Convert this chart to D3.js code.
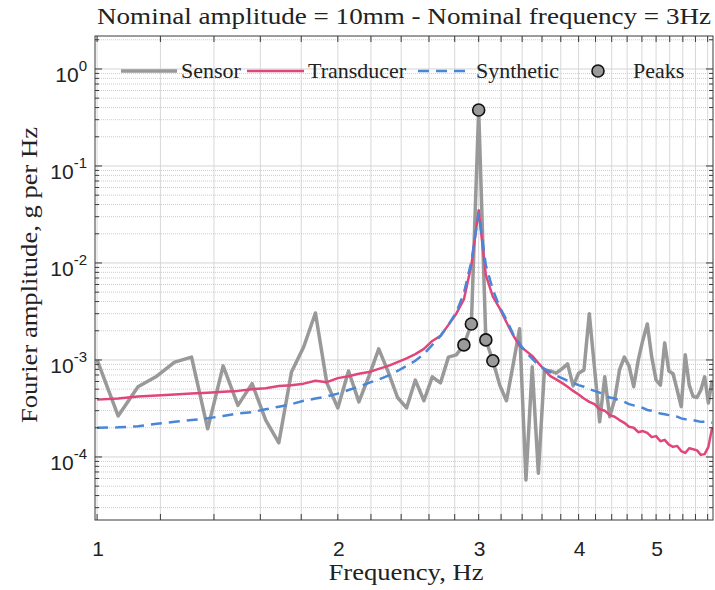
<!DOCTYPE html>
<html>
<head>
<meta charset="utf-8">
<script src="https://cdn.jsdelivr.net/npm/d3@7"></script>
<style>
  body { margin: 0; background: #fff; }
</style>
</head>
<body>
<div id="chart"></div>
<script>
// FFT bins, df = 1/16 Hz
const freqs = [1, 1.0625, 1.125, 1.1875, 1.25, 1.3125, 1.375, 1.4375, 1.5, 1.5625,
  1.625, 1.6875, 1.75, 1.8125, 1.875, 1.9375, 2, 2.0625, 2.125, 2.1875,
  2.25, 2.3125, 2.375, 2.4375, 2.5, 2.5625, 2.625, 2.6875, 2.75, 2.8125,
  2.875, 2.9375, 3, 3.0625, 3.125, 3.1875, 3.25, 3.3125, 3.375, 3.4375,
  3.5, 3.5625, 3.625, 3.6875, 3.75, 3.8125, 3.875, 3.9375, 4, 4.0625,
  4.125, 4.1875, 4.25, 4.3125, 4.375, 4.4375, 4.5, 4.5625, 4.625, 4.6875,
  4.75, 4.8125, 4.875, 4.9375, 5, 5.0625, 5.125, 5.1875, 5.25, 5.3125,
  5.375, 5.4375, 5.5, 5.5625, 5.625, 5.6875, 5.75, 5.8125, 5.875];

const sensor = [1.0e-3, 2.65e-4, 5.3e-4, 6.8e-4, 9.5e-4, 1.07e-3, 1.95e-4, 8.7e-4, 3.4e-4, 5.7e-4,
  2.4e-4, 1.4e-4, 7.5e-4, 1.36e-3, 3.05e-3, 5.8e-4, 3.2e-4, 7.7e-4, 3.7e-4, 6.8e-4,
  1.3e-3, 7.5e-4, 4.1e-4, 3.2e-4, 6.2e-4, 3.8e-4, 6.7e-4, 5.8e-4, 1.07e-3, 1.13e-3,
  1.43e-3, 2.35e-3, 0.378, 1.61e-3, 9.8e-4, 5.5e-4, 3.8e-4, 8.9e-4, 2.1e-3, 5.8e-5,
  8.5e-4, 6.8e-5, 7.9e-4, 7.7e-4, 7.3e-4, 8.1e-4, 9.1e-4, 5.4e-4, 7.3e-4, 7.9e-4,
  3.0e-3, 8.3e-4, 2.3e-4, 6.7e-4, 2.6e-4, 3.9e-4, 7.9e-4, 1.07e-3, 8.7e-4, 5.3e-4,
  1.0e-3, 1.6e-3, 2.35e-3, 1.07e-3, 6.2e-4, 5.5e-4, 1.5e-3, 7.7e-4, 7.2e-4, 4.9e-4,
  3.3e-4, 1.13e-3, 5.5e-4, 4.2e-4, 4.1e-4, 4.9e-4, 6.7e-4, 3.6e-4, 6.2e-4];

const transducer = [3.9e-4, 4.0e-4, 4.2e-4, 4.3e-4, 4.4e-4, 4.5e-4, 4.6e-4, 4.7e-4, 4.8e-4, 5.0e-4,
  5.1e-4, 5.4e-4, 5.5e-4, 5.7e-4, 6.1e-4, 5.9e-4, 6.5e-4, 6.8e-4, 7.2e-4, 7.5e-4,
  8.1e-4, 8.7e-4, 9.5e-4, 1.04e-3, 1.15e-3, 1.3e-3, 1.57e-3, 1.77e-3, 2.3e-3, 3.0e-3,
  4.2e-3, 9.5e-3, 0.035, 7.5e-3, 4.5e-3, 3.4e-3, 2.45e-3, 1.8e-3, 1.4e-3, 1.24e-3,
  1.1e-3, 9.3e-4, 7.9e-4, 6.8e-4, 6.3e-4, 5.8e-4, 5.3e-4, 4.8e-4, 4.4e-4, 4.0e-4,
  3.7e-4, 3.5e-4, 3.1e-4, 3.0e-4, 2.7e-4, 2.6e-4, 2.4e-4, 2.25e-4, 2.05e-4, 2.0e-4,
  1.8e-4, 1.85e-4, 1.77e-4, 1.6e-4, 1.64e-4, 1.45e-4, 1.5e-4, 1.34e-4, 1.27e-4, 1.3e-4,
  1.15e-4, 1.1e-4, 1.23e-4, 1.2e-4, 1.17e-4, 1.05e-4, 1.07e-4, 1.27e-4, 2.0e-4];

const synthetic = [2.0e-4, 2.02e-4, 2.07e-4, 2.2e-4, 2.3e-4, 2.4e-4, 2.5e-4, 2.65e-4, 2.8e-4, 2.9e-4,
  3.1e-4, 3.3e-4, 3.5e-4, 3.8e-4, 4.0e-4, 4.2e-4, 4.5e-4, 4.9e-4, 5.3e-4, 5.8e-4,
  6.3e-4, 6.9e-4, 7.7e-4, 8.7e-4, 9.8e-4, 1.15e-3, 1.43e-3, 1.77e-3, 2.3e-3, 3.1e-3,
  4.9e-3, 0.0103, 0.033, 9.5e-3, 5.3e-3, 3.5e-3, 2.6e-3, 1.85e-3, 1.47e-3, 1.2e-3,
  1.03e-3, 8.9e-4, 8.1e-4, 7.5e-4, 6.9e-4, 6.5e-4, 6.1e-4, 5.8e-4, 5.5e-4, 5.3e-4,
  5.0e-4, 4.8e-4, 4.6e-4, 4.3e-4, 4.1e-4, 4.0e-4, 3.8e-4, 3.7e-4, 3.5e-4, 3.4e-4,
  3.3e-4, 3.2e-4, 3.05e-4, 3.0e-4, 2.9e-4, 2.8e-4, 2.75e-4, 2.7e-4, 2.65e-4, 2.6e-4,
  2.5e-4, 2.45e-4, 2.45e-4, 2.4e-4, 2.35e-4, 2.3e-4, 2.3e-4, 2.25e-4, 2.25e-4];

const peakFreqs = [2.875, 2.9375, 3, 3.0625, 3.125];
const peakValues = [1.43e-3, 2.35e-3, 0.378, 1.61e-3, 9.8e-4];

const xTickLabels = [1, 2, 3, 4, 5];
const yDecadeExps = [-4, -3, -2, -1, 0];

const W = 715, H = 590;
const margin = { left: 95, right: 2, top: 36, bottom: 70 };

const svg = d3.select("#chart").append("svg")
  .attr("width", W).attr("height", H)
  .style("background", "#fff");

const x = d3.scaleLog().domain([0.994, 5.89]).range([margin.left, W - margin.right]);
const y = d3.scaleLog().domain([Math.pow(10, -4.65), Math.pow(10, 0.34)]).range([H - margin.bottom, margin.top]);

const [x0, x1] = x.range();
const [y0, y1] = y.range(); // y0 bottom, y1 top

const serif = "'Liberation Serif', 'Times New Roman', serif";
const sans = "'Liberation Sans', Arial, sans-serif";

// grid
const xGrid = d3.range(1, 5.81, 0.2);
const yMinor = [];
for (let e = -5; e <= 0; e++) {
  for (let m = 2; m <= 9; m++) {
    const v = m * Math.pow(10, e);
    if (v > y.domain()[0] && v < y.domain()[1]) yMinor.push(v);
  }
}
const yMajor = yDecadeExps.map(e => Math.pow(10, e));

const grid = svg.append("g");
grid.selectAll(".gx").data(xGrid).enter().append("line")
  .attr("x1", d => x(d)).attr("x2", d => x(d))
  .attr("y1", y0).attr("y2", y1)
  .attr("stroke", "#d8d8d8").attr("stroke-width", 1);
grid.selectAll(".gym").data(yMinor).enter().append("line")
  .attr("x1", x0).attr("x2", x1)
  .attr("y1", d => y(d)).attr("y2", d => y(d))
  .attr("stroke", "#cccccc").attr("stroke-width", 1)
  .attr("stroke-dasharray", "1,1");
grid.selectAll(".gyM").data(yMajor).enter().append("line")
  .attr("x1", x0).attr("x2", x1)
  .attr("y1", d => y(d)).attr("y2", d => y(d))
  .attr("stroke", "#d4d4d4").attr("stroke-width", 1);

// clip
svg.append("clipPath").attr("id", "clip").append("rect")
  .attr("x", x0).attr("y", y1).attr("width", x1 - x0).attr("height", y0 - y1);

const plot = svg.append("g").attr("clip-path", "url(#clip)");

const line = d3.line().x(d => x(d[0])).y(d => y(d[1]));

plot.append("path")
  .datum(freqs.map((f, i) => [f, sensor[i]]))
  .attr("d", line)
  .attr("fill", "none").attr("stroke", "#999999").attr("stroke-width", 3.5)
  .attr("stroke-linejoin", "round");

plot.append("path")
  .datum(freqs.map((f, i) => [f, transducer[i]]))
  .attr("d", line)
  .attr("fill", "none").attr("stroke", "#e0457b").attr("stroke-width", 2.5)
  .attr("stroke-linejoin", "round");

plot.append("path")
  .datum(freqs.map((f, i) => [f, synthetic[i]]))
  .attr("d", line)
  .attr("fill", "none").attr("stroke", "#4a86d8").attr("stroke-width", 2.5)
  .attr("stroke-dasharray", "11,7");

plot.selectAll(".peak").data(peakFreqs).enter().append("circle")
  .attr("cx", d => x(d)).attr("cy", (d, i) => y(peakValues[i]))
  .attr("r", 6)
  .attr("fill", "#9a9a9a").attr("stroke", "#111").attr("stroke-width", 1.6);

// frame + ticks
const axisColor = "#3a3a3a";
svg.append("rect")
  .attr("x", x0).attr("y", y1).attr("width", x1 - x0).attr("height", y0 - y1)
  .attr("fill", "none").attr("stroke", axisColor).attr("stroke-width", 1);

const ticks = svg.append("g").attr("stroke", axisColor).attr("stroke-width", 1);
xGrid.forEach(f => {
  ticks.append("line").attr("x1", x(f)).attr("x2", x(f)).attr("y1", y0).attr("y2", y0 - 6);
  ticks.append("line").attr("x1", x(f)).attr("x2", x(f)).attr("y1", y1).attr("y2", y1 + 6);
});
yMajor.forEach(v => {
  ticks.append("line").attr("x1", x0).attr("x2", x0 + 7).attr("y1", y(v)).attr("y2", y(v));
  ticks.append("line").attr("x1", x1).attr("x2", x1 - 7).attr("y1", y(v)).attr("y2", y(v));
});
yMinor.forEach(v => {
  ticks.append("line").attr("x1", x0).attr("x2", x0 + 4).attr("y1", y(v)).attr("y2", y(v));
  ticks.append("line").attr("x1", x1).attr("x2", x1 - 4).attr("y1", y(v)).attr("y2", y(v));
});

// tick labels
svg.selectAll(".xl").data(xTickLabels).enter().append("text")
  .attr("x", d => x(d) + 1).attr("y", y0 + 36)
  .attr("text-anchor", "middle")
  .style("font-family", sans).style("font-size", "21px").attr("fill", "#222")
  .text(d => d);

const yl = svg.selectAll(".yl").data(yDecadeExps).enter().append("text")
  .attr("x", x0 - 8).attr("y", d => y(Math.pow(10, d)) + 13)
  .attr("text-anchor", "end")
  .style("font-family", sans).style("font-size", "21px").attr("fill", "#222");
yl.append("tspan").text("10");
yl.append("tspan").attr("dy", -11).style("font-size", "15px").text(d => d);

// axis titles (widths stretched to match the wide LaTeX font)
svg.append("text")
  .attr("x", (x0 + x1) / 2).attr("y", 24)
  .attr("text-anchor", "middle")
  .attr("textLength", 614).attr("lengthAdjust", "spacingAndGlyphs")
  .style("font-family", serif).style("font-size", "24px").attr("fill", "#222")
  .text("Nominal amplitude = 10mm - Nominal frequency = 3Hz");

svg.append("text")
  .attr("x", 406).attr("y", 580)
  .attr("text-anchor", "middle")
  .attr("textLength", 155).attr("lengthAdjust", "spacingAndGlyphs")
  .style("font-family", serif).style("font-size", "23px").attr("fill", "#222")
  .text("Frequency, Hz");

svg.append("text")
  .attr("transform", `translate(37, 275) rotate(-90)`)
  .attr("text-anchor", "middle")
  .attr("textLength", 296).attr("lengthAdjust", "spacingAndGlyphs")
  .style("font-family", serif).style("font-size", "23px").attr("fill", "#222")
  .text("Fourier amplitude, g per Hz");

// legend
const legY = 71;
const leg = svg.append("g");
const legItems = [
  { label: "Sensor", x: 121, len: 56, color: "#999999", w: 3.5, dash: null },
  { label: "Transducer", x: 247, len: 57, color: "#e0457b", w: 2.5, dash: null },
  { label: "Synthetic", x: 418, len: 54, color: "#4a86d8", w: 2.5, dash: "11,7" },
];
legItems.forEach(it => {
  leg.append("line")
    .attr("x1", it.x).attr("x2", it.x + it.len).attr("y1", legY).attr("y2", legY)
    .attr("stroke", it.color).attr("stroke-width", it.w)
    .attr("stroke-dasharray", it.dash);
  leg.append("text")
    .attr("x", it.x + it.len + 4).attr("y", legY + 7)
    .style("font-family", serif).style("font-size", "22px").attr("fill", "#222")
    .text(it.label);
});
leg.append("circle").attr("cx", 598).attr("cy", legY).attr("r", 6)
  .attr("fill", "#9a9a9a").attr("stroke", "#111").attr("stroke-width", 1.6);
leg.append("text").attr("x", 633).attr("y", legY + 7)
  .style("font-family", serif).style("font-size", "22px").attr("fill", "#222")
  .text("Peaks");
</script>
</body>
</html>
